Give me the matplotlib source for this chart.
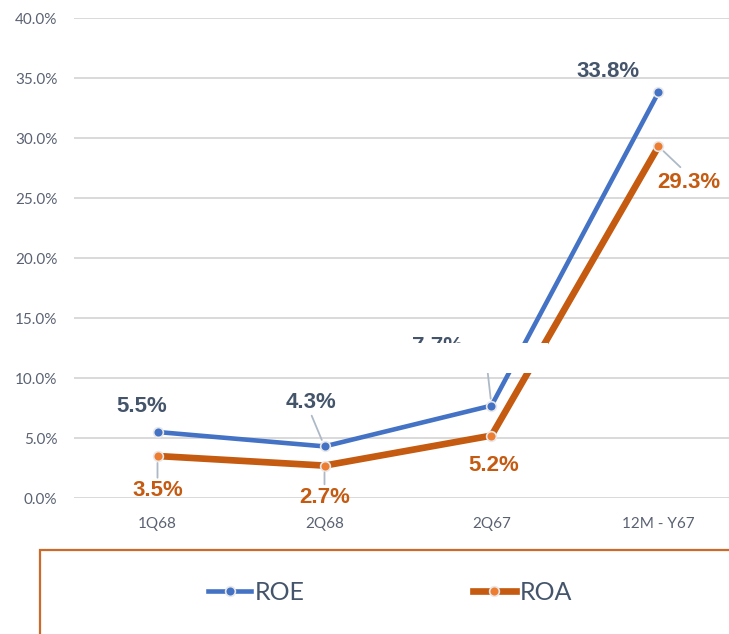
import matplotlib.pyplot as plt
from matplotlib.lines import Line2D
from matplotlib.patches import Rectangle

categories = ["1Q68", "2Q68", "2Q67", "12M - Y67"]
roe = [5.5, 4.3, 7.7, 33.8]
roa = [3.5, 2.7, 5.2, 29.3]
y_ticks = [0, 5, 10, 15, 20, 25, 30, 35, 40]

# label offsets in pixels (dx, dy) and whether a leader line is drawn
roe_offsets = [(-16, 25, False), (-14, 44, True), (-54, 59, True), (-50, 21, False)]
roa_offsets = [(0, -35, True), (0, -32, True), (2, -30, False), (30, -36, True)]

blue = "#4472C4"
orange_line = "#C55A11"
orange_mark = "#ED7D31"
roe_txt = "#44546A"
roa_txt = "#C55A11"
tick_col = "#5A6272"

fig = plt.figure(figsize=(7.29, 6.34), dpi=100)
ax = fig.add_axes([74 / 729, 136 / 634, 668 / 729, 480 / 634])

x = list(range(len(categories)))
ax.plot(x, roe, color=blue, lw=3.3, marker="o", ms=7, mfc=blue,
        mec="#E8E8E8", mew=1.2, solid_capstyle="round", zorder=4)
ax.plot(x, roa, color=orange_line, lw=4.8, marker="o", ms=7, mfc=orange_mark,
        mec="#E8E8E8", mew=1.2, solid_capstyle="round", zorder=3)

ax.set_xlim(-0.5, len(categories) - 0.5)
ax.set_ylim(0, 40)
ax.set_yticks(y_ticks)
ax.set_yticklabels([f"{v:.1f}%" for v in y_ticks])
ax.set_xticks(x)
ax.set_xticklabels(categories)
ax.grid(axis="y", color="#D9D9D9", lw=1.4)
ax.set_axisbelow(True)
for s in ax.spines.values():
    s.set_visible(False)
ax.tick_params(length=0, colors=tick_col, labelsize=11)
ax.tick_params(axis="y", pad=12)
ax.tick_params(axis="x", pad=14)
for lab in ax.get_xticklabels() + ax.get_yticklabels():
    lab.set_fontfamily("Lato")


def add_labels(vals, offsets, color):
    for i, v in enumerate(vals):
        dx, dy, leader = offsets[i]
        props = None
        if leader:
            rel = (0.5, 0) if dy > 0 else (0.5, 1)
            if dx < -30:
                rel = (1.45, 0)
            if dx > 20:
                rel = (0.45, 1)
            props = dict(arrowstyle="-", color="#AEB9C8", lw=1.3,
                         shrinkA=2 if dx > 20 else 0, shrinkB=5, relpos=rel)
        ax.annotate(f"{v:.1f}%", (i, v), xytext=(dx, dy),
                    textcoords="offset pixels", ha="center", va="center",
                    fontsize=16, fontweight="bold", color=color,
                    family="Liberation Sans", arrowprops=props, zorder=5)


add_labels(roe, roe_offsets, roe_txt)
add_labels(roa, roa_offsets, roa_txt)

# white box that hides part of the chart
fig.patches.append(Rectangle((395 / 729, (634 - 373) / 634), 153 / 729, 30 / 634,
                             transform=fig.transFigure, facecolor="white",
                             edgecolor="none", zorder=10))

# legend frame
fig.patches.append(Rectangle((40 / 729, -0.05), 1.3, (634 - 550) / 634 + 0.05,
                             transform=fig.transFigure, facecolor="none",
                             edgecolor="#CC6A2A", lw=1.6, zorder=10))

handles = [
    Line2D([], [], color=blue, lw=3.3, marker="o", ms=7, mfc=blue, mec="#E8E8E8", mew=1.2),
    Line2D([], [], color=orange_line, lw=4.8, marker="o", ms=7, mfc=orange_mark, mec="#E8E8E8", mew=1.2),
]
leg = fig.legend(handles, ["ROE", "ROA"], loc="center", ncol=2,
                 bbox_to_anchor=(390 / 729, 42 / 634), frameon=False,
                 prop={"family": "Lato", "size": 18}, handlelength=1.75,
                 handletextpad=0.15, columnspacing=6.7)
for t in leg.get_texts():
    t.set_color(roe_txt)

fig.savefig("out.png", dpi=100)
